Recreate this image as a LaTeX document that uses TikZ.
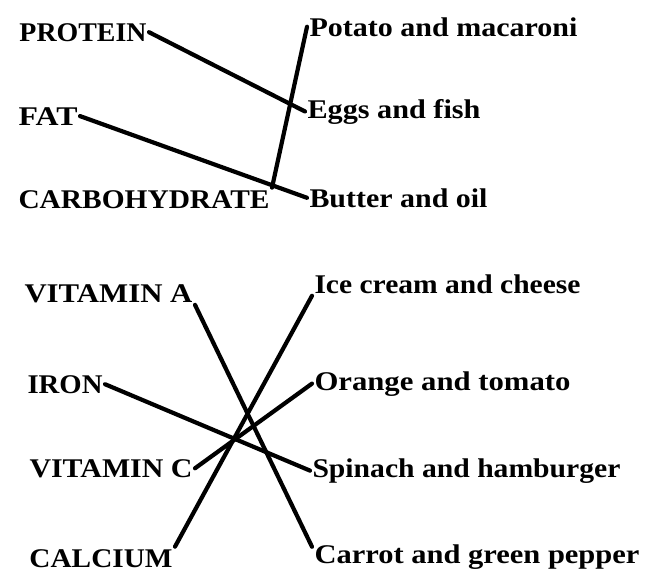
\documentclass[tikz,border=0pt]{standalone}
\usepackage{graphicx}
\usepackage{fontspec}
\setmainfont{Liberation Serif}
\newcommand{\fitw}[2]{\resizebox{#1pt}{\height}{#2}}
\begin{document}
\begin{tikzpicture}[x=1pt,y=-1pt,
  lbl/.style={inner sep=0pt, outer sep=2.5pt, anchor=base west,
              font=\fontsize{27}{30}\selectfont\bfseries},
  link/.style={line width=4.2pt, line cap=round, black}]
\useasboundingbox (0,0) rectangle (652,581);
% top group, left
\node[lbl] (protein) at (17,41)  {\fitw{127}{PROTEIN}};
\node[lbl] (fat)     at (16,125) {\fitw{59}{FAT}};
\node[lbl] (carb)    at (16,208) {\fitw{251}{CARBOHYDRATE}};
% top group, right
\node[lbl] (potato)  at (307,36)  {\fitw{268}{Potato and macaroni}};
\node[lbl] (eggs)    at (305,118) {\fitw{173}{Eggs and fish}};
\node[lbl] (butter)  at (307,207) {\fitw{178}{Butter and oil}};
% bottom group, left
\node[lbl] (vita)    at (22,302) {\fitw{168}{VITAMIN A}};
\node[lbl] (iron)    at (25,393) {\fitw{75}{IRON}};
\node[lbl] (vitc)    at (27,477) {\fitw{163}{VITAMIN C}};
\node[lbl] (calcium) at (27,567) {\fitw{143}{CALCIUM}};
% bottom group, right
\node[lbl] (ice)     at (312,293) {\fitw{266}{Ice cream and cheese}};
\node[lbl] (orange)  at (312,390) {\fitw{256}{Orange and tomato}};
\node[lbl] (spinach) at (310,477) {\fitw{308}{Spinach and hamburger}};
\node[lbl] (carrot)  at (312,563) {\fitw{325}{Carrot and green pepper}};
% connectors
\draw[link] (protein.east) -- (eggs.west);
\draw[link] (fat.east) -- (butter.west);
\draw[link] (carb.north east) -- (potato.west);
\draw[link] (vita.south east) -- ([yshift=-5pt]carrot.north west);
\draw[link] (iron.east) -- (spinach.west);
\draw[link] (vitc.east) -- (orange.west);
\draw[link] (calcium.north east) -- (ice.south west);
\end{tikzpicture}
\end{document}
